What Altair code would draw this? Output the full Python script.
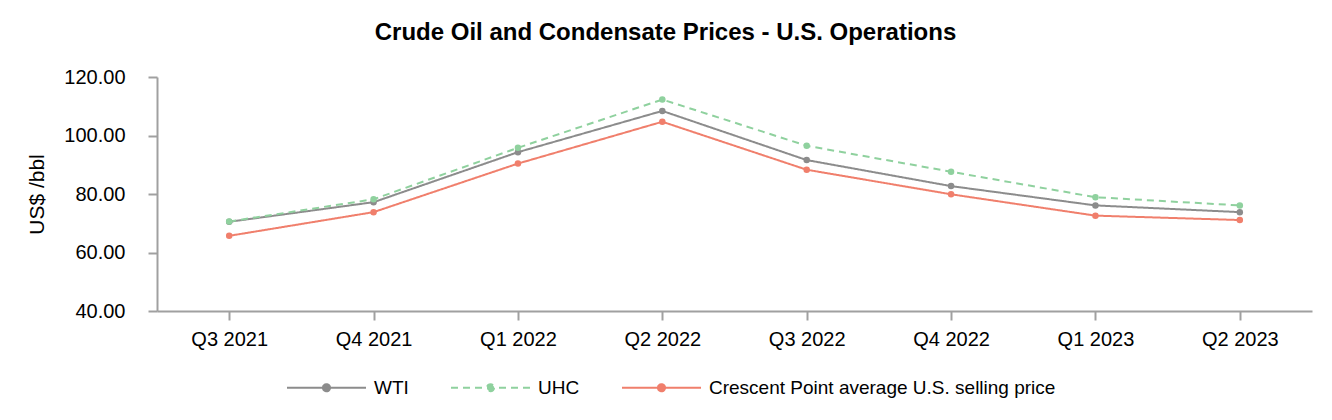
import altair as alt
import pandas as pd

quarters = ["Q3 2021", "Q4 2021", "Q1 2022", "Q2 2022", "Q3 2022", "Q4 2022", "Q1 2023", "Q2 2023"]
wti = [70.5, 77.2, 94.3, 108.4, 91.6, 82.7, 76.1, 73.8]
uhc = [70.6, 78.2, 95.8, 112.3, 96.5, 87.6, 78.9, 76.1]
crescent = [65.7, 73.8, 90.4, 104.7, 88.3, 79.9, 72.6, 71.1]

series_names = ["WTI", "UHC", "Crescent Point average U.S. selling price"]
series_colors = ["#8c8c8c", "#8fd19e", "#f07f6c"]
series_dash = [[1, 0], [7, 5], [1, 0]]

rows = []
for name, vals in zip(series_names, [wti, uhc, crescent]):
    for q, v in zip(quarters, vals):
        rows.append({"quarter": q, "series": name, "price": v})
df = pd.DataFrame(rows)

FONT = "Liberation Sans"
symbol_path = "M-1,0L1,0M0.09,0A0.09,0.09,0,1,1,-0.09,0A0.09,0.09,0,1,1,0.09,0Z"

x = alt.X("quarter:N", sort=quarters, title=None,
          scale=alt.Scale(type="point", padding=0.5),
          axis=alt.Axis(labelAngle=0))
y = alt.Y("price:Q", title="US$ /bbl",
          scale=alt.Scale(domain=[40, 120], nice=False, zero=False),
          axis=alt.Axis(values=[40, 60, 80, 100, 120], format=".2f", grid=False))

leg = alt.Legend(title=None, orient="none", direction="horizontal",
                 legendX=129, legendY=270)

stroke = alt.Stroke("series:N", sort=series_names,
                    scale=alt.Scale(domain=series_names, range=series_colors),
                    legend=leg)
dash = alt.StrokeDash("series:N", sort=series_names,
                      scale=alt.Scale(domain=series_names, range=series_dash),
                      legend=leg)
fill = alt.Fill("series:N", sort=series_names,
                scale=alt.Scale(domain=series_names, range=series_colors),
                legend=leg)

lines = alt.Chart(df).mark_line(strokeWidth=2).encode(x=x, y=y, stroke=stroke, strokeDash=dash)
points = alt.Chart(df).mark_point(filled=True, size=42, opacity=1, strokeWidth=0).encode(
    x=x, y=y, fill=fill)

chart = alt.layer(lines, points).properties(
    width=1155, height=234,
    autosize=alt.AutoSizeParams(type="none"),
    padding={"left": 149, "top": 69, "right": 12, "bottom": 101},
    title=alt.TitleParams(
        "Crude Oil and Condensate Prices - U.S. Operations",
        font=FONT, fontSize=24, fontWeight="bold", color="#000000",
        anchor="middle", dx=-69, offset=22),
).configure_view(stroke=None).configure_axis(
    domainColor="#a0a0a0", domainWidth=2, tickColor="#a0a0a0", tickWidth=2, tickSize=9,
    labelFont=FONT, labelFontSize=20, labelColor="#000000",
    titleFont=FONT, titleFontSize=21, titleFontWeight="normal", titleColor="#000000",
).configure_axisY(labelPadding=23, titlePadding=16).configure_axisX(labelPadding=9
).configure_legend(
    symbolType=symbol_path, symbolSize=6241, symbolStrokeWidth=2,
    labelFont=FONT, labelFontSize=19, labelColor="#000000", labelLimit=0,
    labelOffset=7, columnPadding=38,
)

chart.save("out.html", embed_options={"renderer": "svg", "actions": False})
